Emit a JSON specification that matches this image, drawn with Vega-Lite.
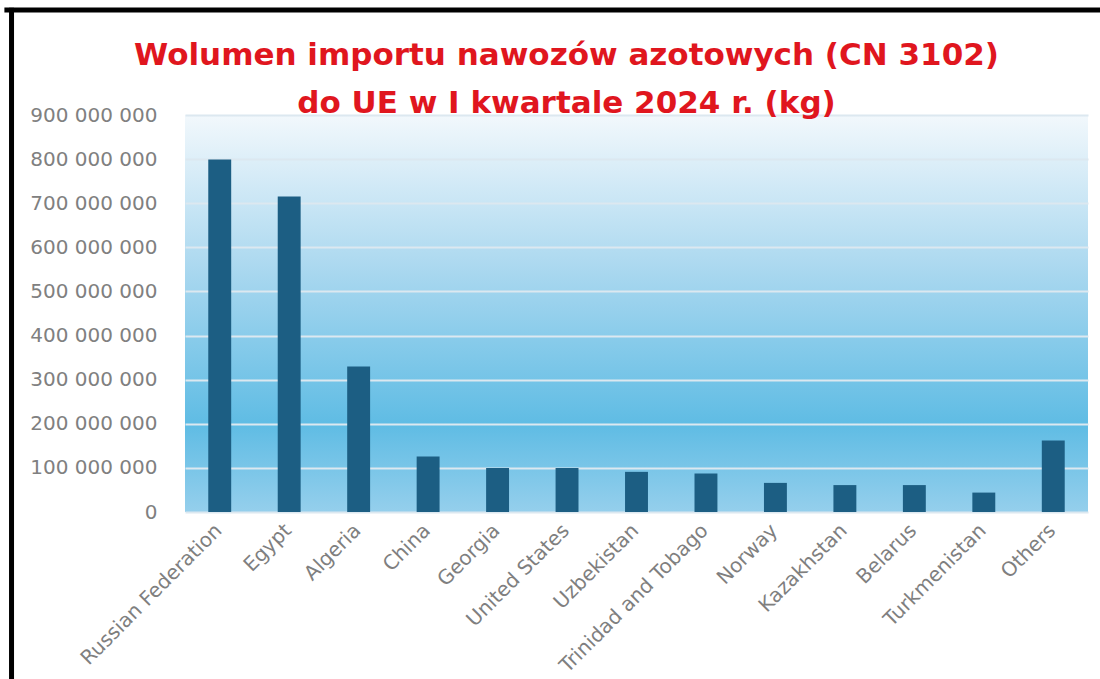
{
  "$schema": "https://vega.github.io/schema/vega-lite/v6.json",
  "autosize": "none",
  "width": 903,
  "height": 397,
  "padding": {"left": 185, "top": 115, "right": 12, "bottom": 167},
  "background": "white",
  "title": {
    "text": ["Wolumen importu nawozów azotowych (CN 3102)", "do UE w I kwartale 2024 r. (kg)"],
    "font": "DejaVu Sans",
    "fontSize": 31,
    "fontWeight": "bold",
    "color": "#e0161e",
    "lineHeight": 48,
    "anchor": "middle",
    "frame": "group",
    "dx": -70,
    "offset": -115
  },
  "data": {
    "values": [
      {"country": "Russian Federation", "kg": 799000000},
      {"country": "Egypt", "kg": 715000000},
      {"country": "Algeria", "kg": 330000000},
      {"country": "China", "kg": 126000000},
      {"country": "Georgia", "kg": 100000000},
      {"country": "United States", "kg": 100000000},
      {"country": "Uzbekistan", "kg": 91000000},
      {"country": "Trinidad and Tobago", "kg": 87000000},
      {"country": "Norway", "kg": 66000000},
      {"country": "Kazakhstan", "kg": 61000000},
      {"country": "Belarus", "kg": 61000000},
      {"country": "Turkmenistan", "kg": 44000000},
      {"country": "Others", "kg": 162000000}
    ]
  },
  "layer": [
    {
      "mark": {"type": "bar", "color": "#1c5e83"},
      "encoding": {
        "x": {
          "field": "country",
          "type": "nominal",
          "sort": null,
          "scale": {"paddingInner": 0.67, "paddingOuter": 0.335},
          "axis": {
            "title": null,
            "labelAngle": -45,
            "labelFont": "DejaVu Sans",
            "labelFontSize": 20,
            "labelColor": "#7f7f7f",
            "labelPadding": 8,
            "labelOffset": -8,
            "labelLimit": 0,
            "ticks": false,
            "domain": false,
            "grid": false
          }
        },
        "y": {
          "field": "kg",
          "type": "quantitative",
          "scale": {"domain": [0, 900000000], "nice": false},
          "axis": {
            "title": null,
            "values": [0, 100000000, 200000000, 300000000, 400000000, 500000000, 600000000, 700000000, 800000000, 900000000],
            "labelExpr": "replace(format(datum.value, ','), regexp(',', 'g'), ' ')",
            "labelFont": "DejaVu Sans",
            "labelFontSize": 20,
            "labelColor": "#808080",
            "labelPadding": 28,
            "ticks": false,
            "domain": false,
            "grid": true,
            "gridColor": "#dce8f0",
            "gridWidth": 2
          }
        }
      }
    },
    {
      "data": {"values": [{}]},
      "mark": {"type": "rule", "color": "black", "strokeWidth": 5, "clip": false},
      "encoding": {
        "x": {"datum": -0.2, "type": "quantitative", "scale": {"domain": [0, 1], "nice": false, "zero": false}, "axis": null},
        "x2": {"datum": 1.05},
        "y": {"datum": 1138000000, "type": "quantitative", "scale": {"domain": [0, 900000000], "nice": false}}
      }
    },
    {
      "data": {"values": [{}]},
      "mark": {"type": "rule", "color": "black", "strokeWidth": 5, "clip": false},
      "encoding": {
        "x": {"datum": -0.1921, "type": "quantitative", "scale": {"domain": [0, 1], "nice": false, "zero": false}, "axis": null},
        "y": {"datum": 1143000000, "type": "quantitative", "scale": {"domain": [0, 900000000], "nice": false}},
        "y2": {"datum": -440000000}
      }
    }
  ],
  "resolve": {"scale": {"x": "independent"}, "axis": {"x": "independent"}},
  "config": {
    "view": {
      "stroke": null,
      "fill": {
        "gradient": "linear",
        "x1": 0, "y1": 0, "x2": 0, "y2": 1,
        "stops": [
          {"offset": 0, "color": "#f2f8fc"},
          {"offset": 0.4, "color": "#a8d7ef"},
          {"offset": 0.78, "color": "#5fbce4"},
          {"offset": 1, "color": "#95cfec"}
        ]
      }
    }
  }
}
